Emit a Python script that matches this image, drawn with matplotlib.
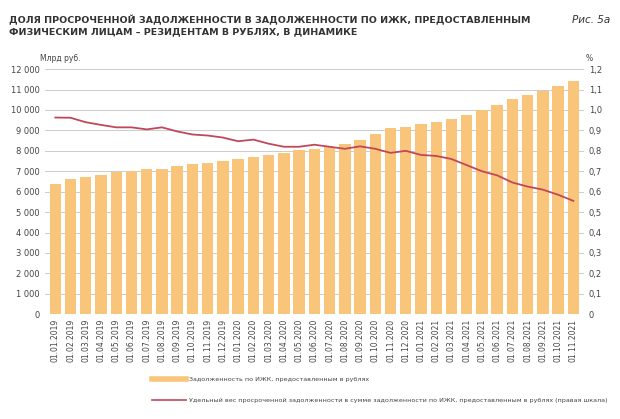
import matplotlib
matplotlib.use("Agg")
import matplotlib.pyplot as plt
import numpy as np

dates = [f"01.{m:02d}.{y}" for y in (2019, 2020, 2021) for m in range(1, 13)][:35]
debt = [6400, 6600, 6730, 6840, 6940, 7020, 7100, 7130, 7240, 7340, 7390, 7500,
        7610, 7680, 7810, 7900, 8020, 8100, 8200, 8350, 8550, 8800, 9100, 9150,
        9300, 9400, 9550, 9750, 10000, 10250, 10550, 10750, 10950, 11150, 11400]
share = [0.963, 0.962, 0.94, 0.927, 0.915, 0.915, 0.905, 0.915, 0.895, 0.88, 0.875, 0.865,
         0.847, 0.855, 0.835, 0.82, 0.82, 0.83, 0.82, 0.81, 0.822, 0.81, 0.79, 0.80,
         0.78, 0.775, 0.76, 0.73, 0.70, 0.68, 0.645, 0.625, 0.61, 0.585, 0.555]
left_ticks = np.arange(0, 12001, 1000)
right_ticks = np.round(np.arange(0, 1.21, 0.1), 1)

BAR = "#F9C57A"
LINE = "#C0485A"
fig = plt.figure(figsize=(6.2, 4.19), dpi=100)
ax = fig.add_axes([0.072, 0.25, 0.87, 0.585])
x = np.arange(len(dates))
ax.bar(x, debt, width=0.75, color=BAR, zorder=2)
ax.set_ylim(0, 12000)
ax.set_xlim(-0.7, len(dates) - 0.3)
ax.set_yticks(left_ticks)
ax.set_yticklabels([f"{v:,}".replace(",", " ") for v in left_ticks], fontsize=6, color="#444")
ax.grid(axis="y", color="#cccccc", lw=0.7, zorder=0)
ax.set_xticks(x)
ax.set_xticklabels(dates, rotation=90, fontsize=5.5, color="#444")
for s in ax.spines.values():
    s.set_visible(False)
ax.tick_params(length=0)
ax2 = ax.twinx()
ax2.plot(x, share, color=LINE, lw=1.3, zorder=3)
ax2.set_ylim(0, 1.2)
ax2.set_yticks(right_ticks)
ax2.set_yticklabels([str(v).replace(".", ",") if v != 0 else "0" for v in right_ticks], fontsize=6, color="#444")
for s in ax2.spines.values():
    s.set_visible(False)
ax2.tick_params(length=0)

fig.text(0.065, 0.855, "Млрд руб.", fontsize=5.5, color="#444")
fig.text(0.945, 0.855, "%", fontsize=5.5, color="#444")
fig.text(0.015, 0.965, "ДОЛЯ ПРОСРОЧЕННОЙ ЗАДОЛЖЕННОСТИ В ЗАДОЛЖЕННОСТИ ПО ИЖК, ПРЕДОСТАВЛЕННЫМ\nФИЗИЧЕСКИМ ЛИЦАМ – РЕЗИДЕНТАМ В РУБЛЯХ, В ДИНАМИКЕ",
         fontsize=6.8, fontweight="bold", color="#333", va="top", linespacing=1.3)
fig.text(0.985, 0.965, "Рис. 5а", fontsize=7.5, style="italic", color="#333", va="top", ha="right")

fig.add_artist(plt.Line2D([0.245, 0.3], [0.095, 0.095], color=BAR, lw=4))
fig.text(0.305, 0.095, "Задолженность по ИЖК, предоставленным в рублях", fontsize=4.6, va="center", color="#444")
fig.add_artist(plt.Line2D([0.245, 0.3], [0.045, 0.045], color=LINE, lw=1.2))
fig.text(0.305, 0.045, "Удельный вес просроченной задолженности в сумме задолженности по ИЖК, предоставленным в рублях (правая шкала)",
         fontsize=4.6, va="center", color="#444")
fig.savefig("out.png", dpi=100)
